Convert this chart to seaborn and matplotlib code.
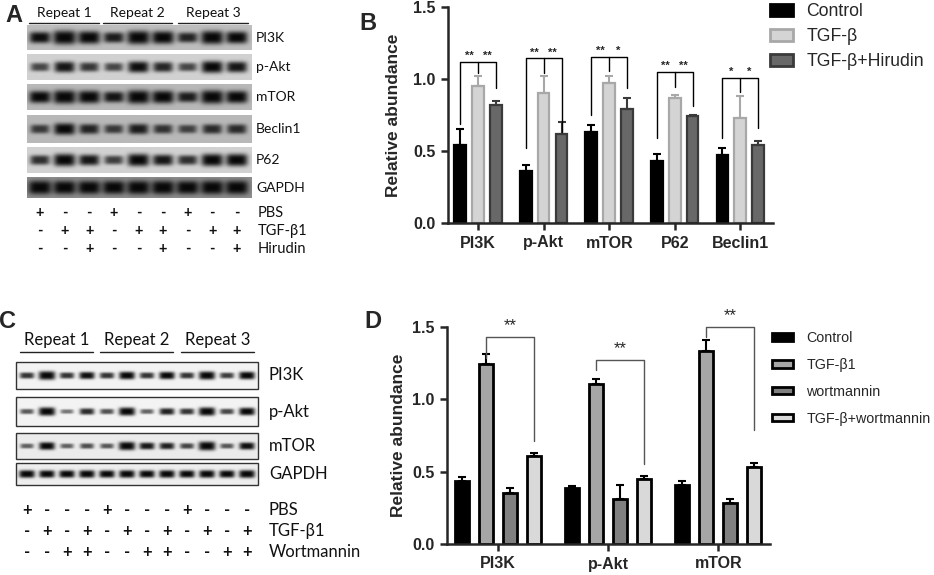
import numpy as np
import pandas as pd
import seaborn as sns
import matplotlib.pyplot as plt
from matplotlib.patches import Rectangle, Patch

# ---------------- panel A blot (band strength 0..1, 9 lanes)
repeats = ['Repeat 1', 'Repeat 2', 'Repeat 3']
blot_names_A = ['PI3K', 'p-Akt', 'mTOR', 'Beclin1', 'P62', 'GAPDH']
pi3k_A = [0.65, 1.0, 0.85, 0.55, 0.95, 0.85, 0.5, 0.92, 0.75]
pakt_A = [0.3, 0.6, 0.4, 0.3, 0.65, 0.5, 0.3, 0.75, 0.6]
mtor_A = [0.75, 0.95, 0.85, 0.6, 0.95, 0.85, 0.55, 0.95, 0.8]
beclin_A = [0.35, 0.7, 0.5, 0.35, 0.55, 0.4, 0.3, 0.45, 0.45]
p62_A = [0.45, 0.8, 0.6, 0.35, 0.8, 0.6, 0.45, 0.8, 0.8]
gapdh_A = [0.95, 0.9, 0.9, 0.9, 0.95, 0.95, 0.9, 0.95, 0.95]
pbs_A = ['+', '-', '-', '+', '-', '-', '+', '-', '-']
tgf_A = ['-', '+', '+', '-', '+', '+', '-', '+', '+']
hir_A = ['-', '-', '+', '-', '-', '+', '-', '-', '+']

# ---------------- panel C blot (12 lanes)
blot_names_C = ['PI3K', 'p-Akt', 'mTOR', 'GAPDH']
pi3k_C = [0.45, 0.95, 0.45, 0.65, 0.45, 0.75, 0.45, 0.7, 0.45, 0.85, 0.4, 0.75]
pakt_C = [0.25, 0.9, 0.1, 0.5, 0.3, 0.85, 0.2, 0.55, 0.45, 0.9, 0.35, 0.75]
mtor_C = [0.2, 0.75, 0.2, 0.3, 0.25, 0.9, 0.6, 0.55, 0.35, 1.0, 0.25, 0.65]
gapdh_C = [0.75, 0.7, 0.7, 0.75, 0.7, 0.75, 0.7, 0.75, 0.7, 0.75, 0.7, 0.8]
pbs_C = ['+', '-', '-', '-', '+', '-', '-', '-', '+', '-', '-', '-']
tgf_C = ['-', '+', '-', '+', '-', '+', '-', '+', '-', '+', '-', '+']
wort_C = ['-', '-', '+', '+', '-', '-', '+', '+', '-', '-', '+', '+']

# ---------------- panel B bars
proteins_B = ['PI3K', 'p-Akt', 'mTOR', 'P62', 'Beclin1']
groups_B = ['Control', 'TGF-β', 'TGF-β+Hirudin']
control_B = [0.54, 0.36, 0.63, 0.43, 0.47]
tgf_B = [0.95, 0.90, 0.97, 0.87, 0.73]
hir_B = [0.82, 0.62, 0.79, 0.74, 0.54]
control_err_B = [0.11, 0.04, 0.05, 0.05, 0.05]
tgf_err_B = [0.07, 0.12, 0.05, 0.02, 0.15]
hir_err_B = [0.03, 0.08, 0.08, 0.01, 0.03]
br_top_B = [1.12, 1.145, 1.156, 1.05, 1.01]
br_left_B = [0.69, 0.52, 0.75, 0.59, 0.59]
br_mid_B = [1.045, 1.04, 1.056, 0.947, 0.912]
br_right_B = [0.94, 0.63, 0.94, 0.81, 0.66]
stars_left_B = ['**', '**', '**', '**', '*']
stars_right_B = ['**', '**', '*', '**', '*']

# ---------------- panel D bars
proteins_D = ['PI3K', 'p-Akt', 'mTOR']
groups_D = ['Control', 'TGF-β1', 'wortmannin', 'TGF-β+wortmannin']
control_D = [0.436, 0.39, 0.41]
tgfb1_D = [1.246, 1.105, 1.336]
wort_D = [0.35, 0.31, 0.28]
tgfw_D = [0.605, 0.45, 0.53]
control_err_D = [0.025, 0.012, 0.025]
tgfb1_err_D = [0.065, 0.035, 0.075]
wort_err_D = [0.04, 0.095, 0.03]
tgfw_err_D = [0.025, 0.02, 0.03]
br_top_D = [1.43, 1.27, 1.50]
br_left_D = [1.285, 1.20, 1.43]
br_right_D = [0.71, 0.55, 0.79]

W, H = 934, 575
sns.set_style('ticks')
plt.rcParams['font.family'] = ['Liberation Sans', 'DejaVu Sans']
BLOT_FONT = ['Lato', 'DejaVu Sans']

fig = plt.figure(figsize=(W / 100, H / 100), dpi=100)


def frac(l, t, r, b):
    return [l / W, 1 - b / H, (r - l) / W, (b - t) / H]


# overlay axes in pixel units for the blots and panel letters
ov = fig.add_axes([0, 0, 1, 1])
ov.set_xlim(0, W)
ov.set_ylim(H, 0)
ov.axis('off')


def draw_blot(rows, names, lanes, left, right, tops, bottoms, bgs, bw, bh,
              label_x, fs, frame):
    for vals, name, t, b, bg in zip(rows, names, tops, bottoms, bgs):
        w, h = int(right - left), int(b - t)
        X, Y = np.meshgrid(np.arange(w) + left + 0.5, np.arange(h) + 0.5)
        img = np.full(X.shape, bg)
        for xc, v in zip(lanes, vals):
            band = np.exp(-((X - xc) / (bw * (0.75 + 0.25 * v))) ** 4) * \
                np.exp(-np.abs((Y - h / 2) / (bh * (0.45 + 0.55 * v))) ** 3)
            img = img - (bg - 0.03) * min(1, 0.45 + 0.8 * v) * band
        ov.imshow(np.clip(img, 0, 1), cmap='gray', vmin=0, vmax=1,
                  extent=(left, right, b, t), aspect='auto', interpolation='bilinear')
        if frame:
            ov.add_patch(Rectangle((left, t), right - left, b - t, fill=False,
                                   edgecolor='#333333', lw=1))
        ov.text(label_x, (t + b) / 2, name, fontsize=fs, family=BLOT_FONT,
                ha='left', va='center', color='#111111')
    ov.set_xlim(0, W)
    ov.set_ylim(H, 0)


def draw_signs(sign_rows, sign_names, lanes, ys, label_x, fs):
    for signs, name, y in zip(sign_rows, sign_names, ys):
        for xc, s in zip(lanes, signs):
            ov.text(xc, y, s, fontsize=fs, family=BLOT_FONT, ha='center',
                    va='center', fontweight='bold', color='#111111')
        ov.text(label_x, y, name, fontsize=fs, family=BLOT_FONT, ha='left',
                va='center', color='#111111')


def draw_repeats(spans, y_line, y_text, fs):
    for (a, b), name in zip(spans, repeats):
        ov.plot([a, b], [y_line, y_line], color='#222222', lw=1)
        ov.text((a + b) / 2, y_text, name, fontsize=fs, family=BLOT_FONT,
                ha='center', va='center', color='#111111')


lanes_A = [40 + 24.6 * i for i in range(len(pbs_A))]
draw_blot([pi3k_A, pakt_A, mtor_A, beclin_A, p62_A, gapdh_A], blot_names_A,
          lanes_A, 27, 252, [25, 54, 84, 115, 147, 177], [50, 80, 110, 143, 173, 198],
          [0.74, 0.82, 0.72, 0.72, 0.82, 0.55], 11.5, 7, 256, 10, False)
draw_signs([pbs_A, tgf_A, hir_A], ['PBS', 'TGF-β1', 'Hirudin'], lanes_A,
           [213, 231, 249], 258, 10.5)
draw_repeats([(29, 99), (103, 172), (178, 248)], 23, 13, 10)

lanes_C = [27 + 20 * i for i in range(len(pbs_C))]
draw_blot([pi3k_C, pakt_C, mtor_C, gapdh_C], blot_names_C, lanes_C, 16, 258,
          [362, 397, 433, 463], [389, 426, 459, 485], [0.95, 0.95, 0.92, 0.93],
          8.5, 4.5, 269, 12, True)
draw_signs([pbs_C, tgf_C, wort_C], ['PBS', 'TGF-β1', 'Wortmannin'], lanes_C,
           [510, 531, 552], 269, 12)
draw_repeats([(20, 93), (100, 173), (181, 254)], 352, 340, 12)

for letter, (x, y) in zip('ABCD', [(14, 16), (368, 24), (8, 321), (373, 322)]):
    ov.text(x, y, letter, fontsize=17, fontweight='bold', ha='center', va='center')


def style_bar_axes(ax, ylab_x):
    sns.despine(ax=ax)
    for s in ['left', 'bottom']:
        ax.spines[s].set_linewidth(1.8)
    ax.tick_params(width=1.8, length=5, labelsize=11.5, pad=4)
    for lab in ax.get_xticklabels() + ax.get_yticklabels():
        lab.set_fontweight('bold')
    ax.set_ylim(0, 1.5)
    ax.set_yticks([0, 0.5, 1.0, 1.5])
    ax.set_yticklabels(['0.0', '0.5', '1.0', '1.5'], fontweight='bold')
    ax.set_xlabel('')
    ax.set_ylabel('Relative abundance', fontsize=12.5, fontweight='bold')
    ax.yaxis.set_label_coords(ylab_x, 0.5)
    ax.patch.set_alpha(0)


def centers(container):
    return [p.get_x() + p.get_width() / 2 for p in container]


# ---------------- panel B
axB = fig.add_axes(frac(448, 7, 773, 223))
df_B = pd.DataFrame({'protein': proteins_B * 3,
                     'group': np.repeat(groups_B, len(proteins_B)),
                     'value': control_B + tgf_B + hir_B})
fill_B = ['#000000', '#d4d4d4', '#686868']
edge_B = ['#000000', '#a8a8a8', '#3a3a3a']
sns.barplot(data=df_B, x='protein', y='value', hue='group', hue_order=groups_B,
            palette=dict(zip(groups_B, fill_B)), width=0.82, gap=0.35,
            errorbar=None, saturation=1, legend=False, ax=axB)
bars_B = list(axB.containers)
for cont, ec, vals, errs in zip(bars_B, edge_B, [control_B, tgf_B, hir_B],
                                [control_err_B, tgf_err_B, hir_err_B]):
    for p in cont:
        p.set_edgecolor(ec)
        p.set_linewidth(1.6)
    axB.errorbar(centers(cont), vals, yerr=[np.zeros(len(vals)), errs], fmt='none',
                 ecolor=ec, elinewidth=1.5, capsize=3, capthick=1.5)
xc0, xc1, xc2 = [centers(c) for c in bars_B]
for i in range(len(proteins_B)):
    t = br_top_B[i]
    axB.plot([xc0[i], xc0[i], xc2[i], xc2[i]], [br_left_B[i], t, t, br_right_B[i]],
             color='black', lw=1)
    axB.plot([xc1[i], xc1[i]], [t, br_mid_B[i]], color='black', lw=1)
    axB.text((xc0[i] + xc1[i]) / 2, t + 0.005, stars_left_B[i], ha='center',
             va='bottom', fontsize=8, fontweight='bold')
    axB.text((xc1[i] + xc2[i]) / 2, t + 0.005, stars_right_B[i], ha='center',
             va='bottom', fontsize=8, fontweight='bold')
axB.set_xlim(-0.46, 4.5)
style_bar_axes(axB, -0.145)
fig.legend(handles=[Patch(facecolor=f, edgecolor=e, linewidth=2) for f, e in zip(fill_B, edge_B)],
           labels=groups_B, loc='upper left', bbox_to_anchor=(770 / W, 1 - 3 / H),
           frameon=False, fontsize=12.7, handlelength=1.3, handleheight=0.65,
           handletextpad=0.75, labelspacing=0.45, borderpad=0, borderaxespad=0)

# ---------------- panel D
axD = fig.add_axes(frac(447, 327, 770, 544))
df_D = pd.DataFrame({'protein': proteins_D * 4,
                     'group': np.repeat(groups_D, len(proteins_D)),
                     'value': control_D + tgfb1_D + wort_D + tgfw_D})
fill_D = ['#000000', '#a6a6a6', '#808080', '#d9d9d9']
sns.barplot(data=df_D, x='protein', y='value', hue='group', hue_order=groups_D,
            palette=dict(zip(groups_D, fill_D)), width=0.873, gap=0.42,
            errorbar=None, saturation=1, legend=False, ax=axD)
bars_D = list(axD.containers)
for cont, vals, errs in zip(bars_D, [control_D, tgfb1_D, wort_D, tgfw_D],
                            [control_err_D, tgfb1_err_D, wort_err_D, tgfw_err_D]):
    for p in cont:
        p.set_edgecolor('black')
        p.set_linewidth(2)
    axD.errorbar(centers(cont), vals, yerr=[np.zeros(len(vals)), errs], fmt='none',
                 ecolor='black', elinewidth=1.5, capsize=3, capthick=1.5)
xd1 = centers(bars_D[1])
xd3 = centers(bars_D[3])
for i in range(len(proteins_D)):
    t = br_top_D[i]
    axD.plot([xd1[i], xd1[i], xd3[i], xd3[i]], [br_left_D[i], t, t, br_right_D[i]],
             color='#555555', lw=1, clip_on=False)
    axD.text((xd1[i] + xd3[i]) / 2, t + 0.03, '**', ha='center', va='bottom',
             fontsize=12, clip_on=False)
axD.set_xlim(-0.46, 2.47)
style_bar_axes(axD, -0.128)
fig.legend(handles=[Patch(facecolor=f, edgecolor='black', linewidth=2) for f in fill_D],
           labels=groups_D, loc='upper left', bbox_to_anchor=(772 / W, 1 - 331 / H),
           frameon=False, fontsize=10.3, handlelength=1.5, handleheight=0.45,
           handletextpad=0.9, labelspacing=0.9, borderpad=0, borderaxespad=0)

fig.savefig('out.png', dpi=100)
